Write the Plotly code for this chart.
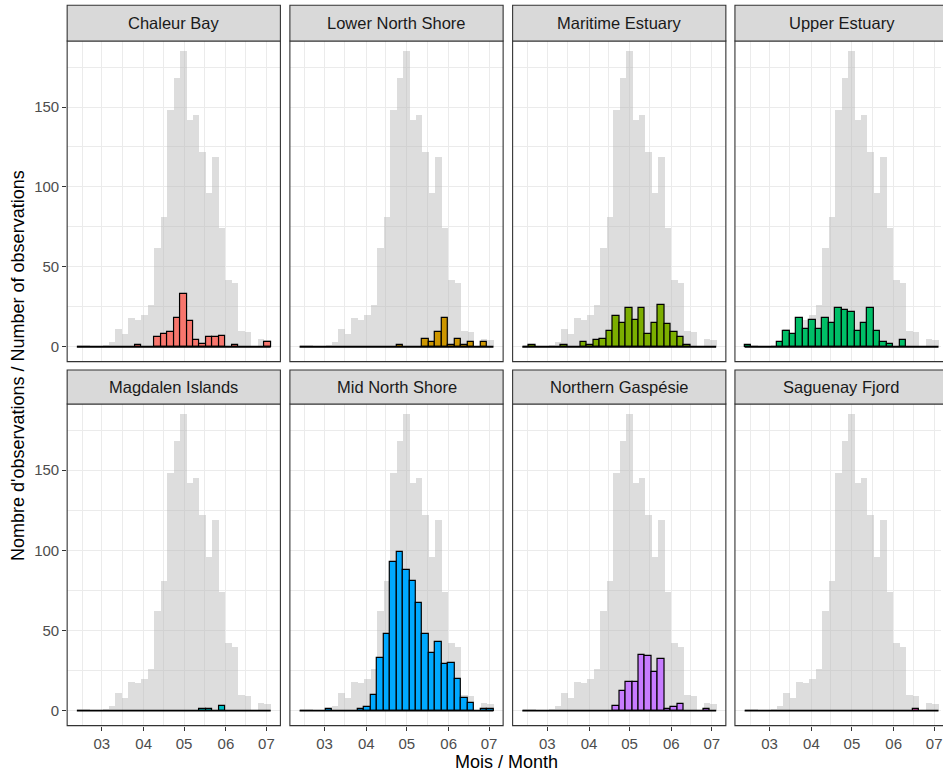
import plotly.graph_objects as go
from datetime import datetime, timedelta

# ---------------- data ----------------
regions = ["Chaleur Bay", "Lower North Shore", "Maritime Estuary", "Upper Estuary",
           "Magdalen Islands", "Mid North Shore", "Northern Gaspésie", "Saguenay Fjord"]
region_colors = ["#F8766D", "#CD9600", "#7CAE00", "#00BE67",
                 "#00BFC4", "#00A9FF", "#C77CFF", "#FF61CC"]

first_bin_start = datetime(2021, 2, 10, 12)
bin_width_days = 4.79
n_bins = 30

all_regions = [1, 1, 0, 0, 1, 3, 11, 8, 18, 17, 20, 26, 62, 81, 148, 168, 185, 142, 145, 122,
               96, 119, 74, 42, 40, 10, 9, 0, 5, 4]

chaleur_bay = [0, 0, 0, 0, 0, 0, 0, 0, 0, 1, 0, 0, 6, 8, 9, 18, 33, 16, 4, 2,
               6, 6, 7, 0, 1, 0, 0, 0, 0, 3]
lower_north_shore = [0, 0, 0, 0, 0, 0, 0, 0, 0, 0, 0, 0, 0, 0, 0, 1, 0, 0, 0, 5,
                     3, 9, 18, 1, 5, 1, 3, 0, 3, 0]
maritime_estuary = [0, 1, 0, 0, 0, 0, 1, 0, 0, 3, 1, 4, 5, 10, 19, 15, 24, 17, 24, 8,
                    15, 26, 14, 9, 6, 1, 0, 0, 0, 0]
upper_estuary = [1, 0, 0, 0, 0, 3, 10, 8, 18, 11, 17, 11, 18, 15, 24, 23, 22, 10, 15, 24,
                 10, 3, 2, 0, 4, 0, 0, 0, 0, 0]
magdalen_islands = [0, 0, 0, 0, 0, 0, 0, 0, 0, 0, 0, 0, 0, 0, 0, 0, 0, 0, 0, 1,
                    1, 0, 3, 0, 0, 0, 0, 0, 0, 0]
mid_north_shore = [0, 0, 0, 0, 1, 0, 0, 0, 0, 1, 2, 10, 33, 48, 93, 99, 88, 81, 67, 48,
                   36, 43, 29, 30, 20, 8, 5, 0, 1, 1]
northern_gaspesie = [0, 0, 0, 0, 0, 0, 0, 0, 0, 0, 0, 0, 0, 0, 3, 12, 18, 18, 35, 34,
                     24, 32, 1, 2, 4, 0, 0, 0, 1, 0]
saguenay_fjord = [0, 0, 0, 0, 0, 0, 0, 0, 0, 0, 0, 0, 0, 0, 0, 0, 0, 0, 0, 0,
                  0, 0, 0, 0, 0, 0, 1, 0, 0, 0]

region_counts = [chaleur_bay, lower_north_shore, maritime_estuary, upper_estuary,
                 magdalen_islands, mid_north_shore, northern_gaspesie, saguenay_fjord]

month_ticks = [datetime(2021, m, 1) for m in (3, 4, 5, 6, 7)]
month_labels = ["03", "04", "05", "06", "07"]
minor_ticks = [datetime(2021, 2, 14, 12), datetime(2021, 3, 16), datetime(2021, 4, 15, 12),
               datetime(2021, 5, 16), datetime(2021, 6, 15, 12)]
y_ticks = [0, 50, 100, 150]
y_minor = [25, 75, 125, 175]

# ---------------- layout geometry ----------------
W, H = 943, 773
col_left = [67.3, 290.5, 513.7, 736.5]
panel_w = 213.7
row_panel = [(41.0, 361.6), (404.0, 725.6)]
row_strip = [(5.3, 41.0), (370.0, 404.0)]

bw = timedelta(days=bin_width_days)
bw_ms = bin_width_days * 86400000
centers = [first_bin_start + bw * (i + 0.5) for i in range(n_bins)]
data_lo = first_bin_start
data_hi = first_bin_start + bw * n_bins
span = data_hi - data_lo
x_lo = data_lo - span * 0.05
x_hi = data_hi + span * 0.05

FONT = "Liberation Sans, Arial, sans-serif"
GRID = "#EBEBEB"

fig = go.Figure()
shapes = []
annotations = []

for k, (name, counts, col) in enumerate(zip(regions, region_counts, region_colors)):
    r, c = divmod(k, 4)
    idx = k + 1
    xname = "x" if idx == 1 else f"x{idx}"
    yname = "y" if idx == 1 else f"y{idx}"

    left = col_left[c]
    right = min(left + panel_w, W)
    top, bottom = row_panel[r]

    # grey background histogram (all regions)
    fig.add_trace(go.Bar(x=centers, y=all_regions, width=[bw_ms] * n_bins,
                         marker=dict(color="rgba(179,179,179,0.45)", line=dict(width=0)),
                         xaxis=xname, yaxis=yname, showlegend=False, hoverinfo="skip"))
    # region histogram
    xs = [cx for cx, v in zip(centers, counts) if v > 0]
    ys = [v for v in counts if v > 0]
    fig.add_trace(go.Bar(x=xs, y=ys, width=[bw_ms] * len(xs),
                         marker=dict(color=col, line=dict(color="black", width=1.2)),
                         xaxis=xname, yaxis=yname, showlegend=False))
    # zero-count bins outline (baseline)
    fig.add_trace(go.Scatter(x=[data_lo, data_hi], y=[0, 0], mode="lines",
                             line=dict(color="black", width=1.8),
                             xaxis=xname, yaxis=yname, showlegend=False, hoverinfo="skip"))

    vis_hi = x_lo + (x_hi - x_lo) * ((right - left) / panel_w)

    xa = dict(domain=[left / W, right / W], anchor=yname, type="date",
              range=[x_lo, vis_hi], tickvals=month_ticks, ticktext=month_labels,
              showgrid=True, gridcolor=GRID, gridwidth=1.4, zeroline=False,
              showline=False, ticklabeloverflow="allow",
              minor=dict(tickvals=minor_ticks, showgrid=True, gridcolor=GRID,
                         gridwidth=1.0, ticks=""),
              tickfont=dict(family=FONT, size=15, color="#4D4D4D"),
              fixedrange=True)
    if r == 1:
        xa.update(ticks="outside", ticklen=4, tickwidth=1.1, tickcolor="#333333",
                  showticklabels=True)
    else:
        xa.update(ticks="", showticklabels=False)

    ya = dict(domain=[1 - bottom / H, 1 - top / H], anchor=xname,
              range=[-9.3, 191.3], tickvals=y_ticks,
              showgrid=True, gridcolor=GRID, gridwidth=1.4, zeroline=False,
              showline=False,
              minor=dict(tickvals=y_minor, showgrid=True, gridcolor=GRID,
                         gridwidth=1.0, ticks=""),
              tickfont=dict(family=FONT, size=15, color="#4D4D4D"),
              fixedrange=True)
    if c == 0:
        ya.update(ticks="outside", ticklen=4, tickwidth=1.1, tickcolor="#333333",
                  showticklabels=True)
    else:
        ya.update(ticks="", showticklabels=False)

    fig.layout["xaxis" if idx == 1 else f"xaxis{idx}"] = xa
    fig.layout["yaxis" if idx == 1 else f"yaxis{idx}"] = ya

    # panel border
    x1_paper = (left + panel_w) / W if c < 3 else 1.05
    shapes.append(dict(type="rect", xref="paper", yref="paper",
                       x0=left / W, x1=x1_paper, y0=1 - bottom / H, y1=1 - top / H,
                       line=dict(color="#333333", width=1.1), fillcolor="rgba(0,0,0,0)",
                       layer="above"))
    # strip
    s_top, s_bot = row_strip[r]
    shapes.append(dict(type="rect", xref="paper", yref="paper",
                       x0=left / W, x1=x1_paper, y0=1 - s_bot / H, y1=1 - s_top / H,
                       line=dict(color="#333333", width=1.1), fillcolor="#D9D9D9",
                       layer="above"))
    annotations.append(dict(text=name, xref="paper", yref="paper",
                            x=(left + panel_w / 2) / W, y=1 - (s_top + s_bot) / 2 / H,
                            xanchor="center", yanchor="middle", showarrow=False,
                            font=dict(family=FONT, size=16.5, color="#1A1A1A")))

annotations.append(dict(text="Mois / Month", xref="paper", yref="paper",
                        x=508 / W, y=1 - 762 / H, xanchor="center", yanchor="middle",
                        showarrow=False, font=dict(family=FONT, size=18, color="black")))
annotations.append(dict(text="Nombre d'observations / Number of observations",
                        xref="paper", yref="paper", x=18 / W, y=1 - 365 / H,
                        xanchor="center", yanchor="middle", textangle=-90,
                        showarrow=False, font=dict(family=FONT, size=18, color="black")))

fig.update_layout(width=W, height=H, margin=dict(l=0, r=0, t=0, b=0),
                  paper_bgcolor="white", plot_bgcolor="white",
                  barmode="overlay", bargap=0, shapes=shapes, annotations=annotations,
                  font=dict(family=FONT), showlegend=False)

fig.write_html("out.html", config={"displayModeBar": False},
               post_script="document.body.style.margin='0px';"
                           "document.body.style.overflow='hidden';")
